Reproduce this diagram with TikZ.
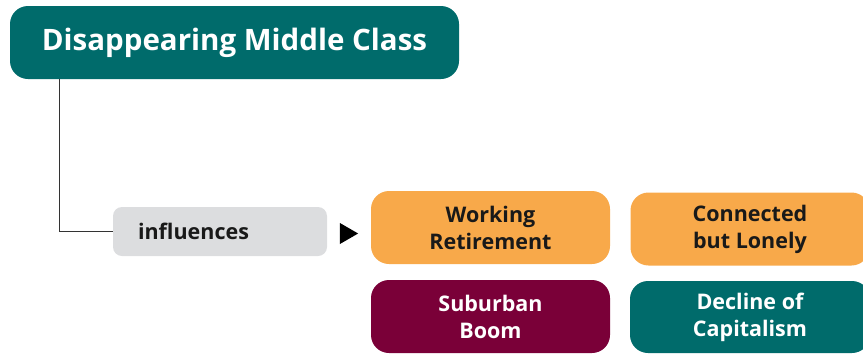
\documentclass[tikz,border=0pt]{standalone}
\usepackage{fontspec}
\setmainfont{Open Sans}
\usepackage{xcolor}
\usetikzlibrary{shapes.geometric, positioning, calc}

\definecolor{tealbox}{HTML}{006B6B}
\definecolor{orangebox}{HTML}{F8A94A}
\definecolor{maroonbox}{HTML}{7A0038}
\definecolor{graybox}{HTML}{DCDDDF}

\begin{document}
\begin{tikzpicture}[
    x=1pt, y=-1pt,
    box/.style={rounded corners=18pt, align=center, inner sep=0pt, font=\fontsize{21.5}{27}\selectfont\bfseries},
    title/.style={box, fill=tealbox, text=white, minimum width=449pt, minimum height=73pt, font=\fontsize{29.5}{32}\selectfont\bfseries},
    relation/.style={rounded corners=9pt, fill=graybox, text=black!90, minimum width=214pt, minimum height=49pt,
      text width=164pt, inner xsep=25pt, inner ysep=0pt, align=left, font=\fontsize{21.5}{24}\selectfont\bfseries},
    warm/.style={box, fill=orangebox, text=black!90, minimum width=239pt, minimum height=73pt},
    dark/.style={box, fill=maroonbox, text=white, minimum width=239pt, minimum height=73pt},
    cool/.style={box, fill=tealbox, text=white, minimum width=240pt, minimum height=72pt},
    link/.style={draw=black!80, line width=0.9pt},
  ]
  \useasboundingbox (0,0) rectangle (863,354);

  % Main topic
  \node[title] (topic) at (234.5,42.5) {Disappearing Middle Class};

  % Relation label
  \node[relation] (infl) at (220,231.5) {influences};
  \node[isosceles triangle, fill=black, inner sep=0pt, minimum width=21pt, minimum height=12pt,
        isosceles triangle apex angle=60] (tip) at (346,233.5) {};

  % Related topics
  \node[warm] (work) at (490.5,227.5) {Working\\Retirement};
  \node[warm] (lonely) at (750,229) {Connected\\but Lonely};
  \node[dark] (suburb) at (490.5,316.5) {Suburban\\Boom};
  \node[cool] (decline) at (750,317) {Decline of\\Capitalism};

  % Connector from topic to relation
  \draw[link] ($(topic.south west)+(50,0)$) |- (infl.west);

\end{tikzpicture}
\end{document}
